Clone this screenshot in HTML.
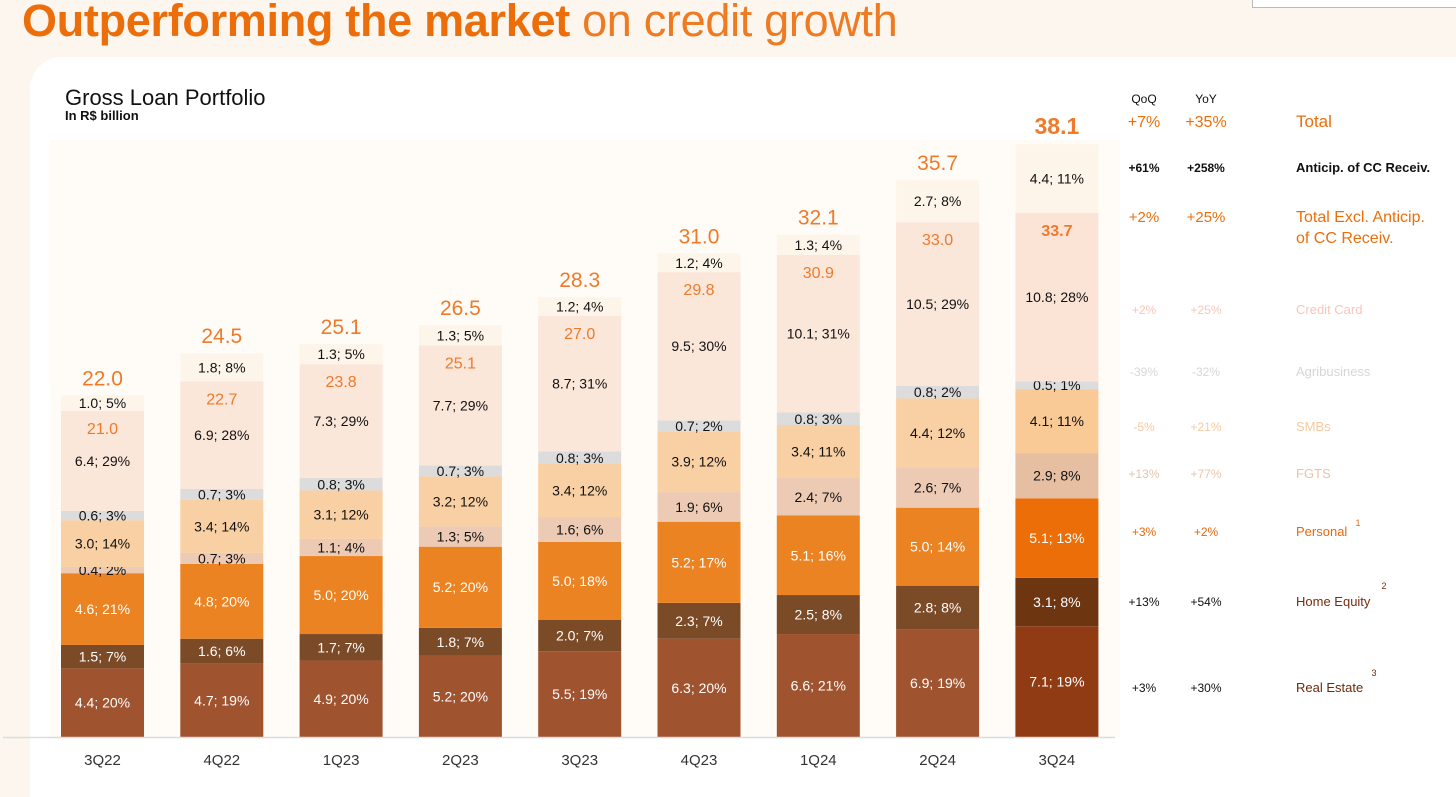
<!DOCTYPE html>
<html><head><meta charset="utf-8">
<style>
html,body{margin:0;padding:0;}
body{width:1456px;height:779px;background:#fcf6ee;position:relative;overflow:hidden;font-family:"Liberation Sans",sans-serif;}
#title{position:absolute;left:22px;top:-5px;font-size:45px;color:#ec6e0a;white-space:nowrap;letter-spacing:-0.3px}
#title b{font-weight:bold}
#title span{font-weight:normal;color:#ee7a22}
#card{position:absolute;left:30px;top:57px;width:1440px;height:740px;background:#fff;border-radius:32px 0 0 0;}
#topbox{position:absolute;left:1252px;top:-2px;width:210px;height:8px;background:#fff;border:1px solid #bbb;}
svg{position:absolute;left:0;top:0}
</style></head>
<body>
<div id="title"><b>Outperforming the market</b> <span>on credit growth</span></div>
<div id="topbox"></div>
<div id="card"></div>
<svg id="chart" width="1456" height="779"></svg>
<script>
const categories=["3Q22","4Q22","1Q23","2Q23","3Q23","4Q23","1Q24","2Q24","3Q24"];
const realEstate=[4.4,4.7,4.9,5.2,5.5,6.3,6.6,6.9,7.1];
const realEstatePct=[20,19,20,20,19,20,21,19,19];
const homeEquity=[1.5,1.6,1.7,1.8,2.0,2.3,2.5,2.8,3.1];
const homeEquityPct=[7,6,7,7,7,7,8,8,8];
const personal=[4.6,4.8,5.0,5.2,5.0,5.2,5.1,5.0,5.1];
const personalPct=[21,20,20,20,18,17,16,14,13];
const fgts=[0.4,0.7,1.1,1.3,1.6,1.9,2.4,2.6,2.9];
const fgtsPct=[2,3,4,5,6,6,7,7,8];
const smbs=[3.0,3.4,3.1,3.2,3.4,3.9,3.4,4.4,4.1];
const smbsPct=[14,14,12,12,12,12,11,12,11];
const agri=[0.6,0.7,0.8,0.7,0.8,0.7,0.8,0.8,0.5];
const agriPct=[3,3,3,3,3,2,3,2,1];
const creditCard=[6.4,6.9,7.3,7.7,8.7,9.5,10.1,10.5,10.8];
const creditCardPct=[29,28,29,29,31,30,31,29,28];
const anticip=[1.0,1.8,1.3,1.3,1.2,1.2,1.3,2.7,4.4];
const anticipPct=[5,8,5,5,4,4,4,8,11];
const totals=["22.0","24.5","25.1","26.5","28.3","31.0","32.1","35.7","38.1"];
const exclTotals=["21.0","22.7","23.8","25.1","27.0","29.8","30.9","33.0","33.7"];

const svg=document.getElementById('chart');
const NS="http://www.w3.org/2000/svg";
const base=737, scale=15.6, x0=61, step=119.3, bw=83;
const xPos=i=>x0+i*step;
const yPos=v=>base-v*scale;
function mk(tag,attrs){const e=document.createElementNS(NS,tag);for(const k in attrs)e.setAttribute(k,attrs[k]);svg.appendChild(e);return e;}
function txt(x,y,s,size,fill,anchor,weight){const t=mk('text',{x:x,y:y,'font-size':size,fill:fill,'text-anchor':anchor||'middle','font-family':'Liberation Sans, sans-serif','font-weight':weight||'normal'});t.textContent=s;return t;}

const bg=mk('rect',{x:50,y:140,width:1070,height:597,fill:'#fffcf8'});



let t=txt(65,105,"Gross Loan Portfolio",22,'#111','start');

t=txt(65,120,"In R$ billion",13,'#111','start','bold');


const series=[
 {name:'real-estate',v:realEstate,p:realEstatePct,c:'#a0532f',c2:'#913b14',tc:'#fff'},
 {name:'home-equity',v:homeEquity,p:homeEquityPct,c:'#7b4a27',c2:'#6e3511',tc:'#fff'},
 {name:'personal',v:personal,p:personalPct,c:'#ec8322',c2:'#eb6e08',tc:'#fff'},
 {name:'fgts',v:fgts,p:fgtsPct,c:'#eccab4',c2:'#e6bea2',tc:'#111'},
 {name:'smbs',v:smbs,p:smbsPct,c:'#f9d0a3',c2:'#f9ca96',tc:'#111'},
 {name:'agribusiness',v:agri,p:agriPct,c:'#dcdcdc',c2:'#dcdcdc',tc:'#111'},
 {name:'credit-card',v:creditCard,p:creditCardPct,c:'#fbe6da',c2:'#fbe4d6',tc:'#111'},
 {name:'anticip-cc',v:anticip,p:anticipPct,c:'#fdf5ea',c2:'#fdf5ea',tc:'#111'}
];
categories.forEach((cat,i)=>{
  const last=i===categories.length-1;
  let cum=0;
  series.forEach((s,si)=>{
    const v=s.v[i];
    const y1=yPos(cum), y2=yPos(cum+v);
    const r=mk('rect',{x:xPos(i),y:y2,width:bw,height:y1-y2,fill:last?s.c2:s.c});
    
    
    let ly=(y1+y2)/2+5;
    const l=txt(xPos(i)+bw/2,ly,v.toFixed(1)+'; '+s.p[i]+'%',14,s.tc);
    
    
    if(s.name==='credit-card'){
      const e=txt(xPos(i)+bw/2,y2+23,exclTotals[i],16,'#ee7a2a','middle',last?'bold':'normal');
      
      
    }
    cum+=v;
  });
  const tot=txt(xPos(i)+bw/2,yPos(cum)-10,totals[i],last?23:21,'#ee7a2a','middle',last?'bold':'normal');
  
  
  const xl=txt(xPos(i)+bw/2,765,cat,15,'#333');
  
  
});
const ax=mk('line',{x1:3,y1:737.5,x2:1115,y2:737.5,stroke:'#dcdcdc','stroke-width':1.5});



const rows=[
 ['QoQ','YoY','',103,12,'#111','#111','normal'],
 ['+7%','+35%','Total',127,16,'#ec6e0a','#ec6e0a','normal'],
 ['+61%','+258%','Anticip. of CC Receiv.',172,12,'#111','#111','bold'],
 ['+2%','+25%','Total Excl. Anticip.',222,15,'#ec6e0a','#ec6e0a','normal'],
 ['+2%','+25%','Credit Card',314,12,'#f7c5b8','#f7c5b8','normal'],
 ['-39%','-32%','Agribusiness',376,12,'#d6d6d6','#d6d6d6','normal'],
 ['-5%','+21%','SMBs',431,12,'#f8c99e','#f8c99e','normal'],
 ['+13%','+77%','FGTS',478,12,'#eac3aa','#eac3aa','normal'],
 ['+3%','+2%','Personal',536,12,'#e4690e','#e4690e','normal'],
 ['+13%','+54%','Home Equity',606,12,'#111','#7a2c0c','normal'],
 ['+3%','+30%','Real Estate',692,12,'#111','#6b2a0a','normal']
];
rows.forEach(r=>{
  let a=txt(1144,r[3],r[0],r[4],r[5],'middle',r[7]);
  
  let b=txt(1206,r[3],r[1],r[4],r[5],'middle',r[7]);
  
  if(r[2]){let c=txt(1296,r[3],r[2],r[4]+1,r[6],'start',r[7]);
  }
});
let c2=txt(1296,243,'of CC Receiv.',16,'#ec6e0a','start');

[['1',1358,526,'#e4690e'],['2',1384,589,'#7a2c0c'],['3',1374,676,'#6b2a0a']].forEach(s=>{
  const e=txt(s[1],s[2],s[0],9,s[3]);
  
});
</script>
</body></html>
